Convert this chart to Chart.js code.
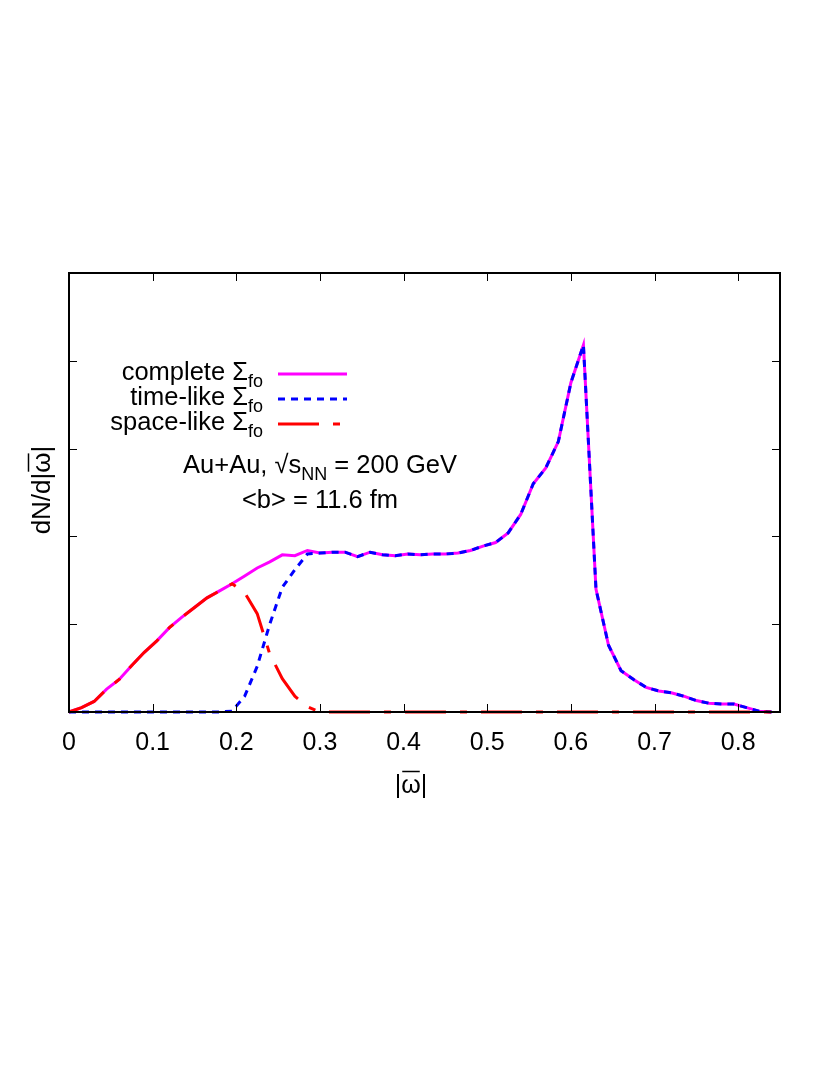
<!DOCTYPE html>
<html>
<head>
<meta charset="utf-8">
<script src="https://cdn.jsdelivr.net/npm/chart.js@4/dist/chart.umd.min.js"></script>
<style>
    html, body { margin: 0; padding: 0; background: #fff; }
    canvas { display: block; }
</style>
</head>
<body>
<canvas id="omegaChart" width="830" height="1075"></canvas>
<script>
// |omega| bins
const omegaValues = [0, 0.015, 0.03, 0.045, 0.06, 0.075, 0.09, 0.105, 0.12, 0.135,
    0.15, 0.165, 0.18, 0.195, 0.21, 0.225, 0.24, 0.255, 0.27, 0.285,
    0.3, 0.315, 0.33, 0.345, 0.36, 0.375, 0.39, 0.405, 0.42, 0.435,
    0.45, 0.465, 0.48, 0.495, 0.51, 0.525, 0.54, 0.555, 0.57, 0.585,
    0.6, 0.615, 0.63, 0.645, 0.66, 0.675, 0.69, 0.705, 0.72, 0.735,
    0.75, 0.765, 0.78, 0.795, 0.81, 0.825, 0.84];

// complete freeze-out surface
const completeValues = [0, 0.05, 0.12, 0.26, 0.37, 0.53, 0.68, 0.81, 0.96, 1.08,
    1.19, 1.30, 1.38, 1.46, 1.55, 1.64, 1.71, 1.79, 1.78, 1.84,
    1.81, 1.82, 1.82, 1.77, 1.82, 1.79, 1.78, 1.80, 1.79, 1.80,
    1.80, 1.81, 1.84, 1.89, 1.93, 2.04, 2.25, 2.60, 2.78, 3.08,
    3.75, 4.18, 1.40, 0.76, 0.47, 0.37, 0.28, 0.24, 0.22, 0.18,
    0.13, 0.10, 0.09, 0.09, 0.05, 0.01, 0];

// time-like part
const timeLikeValues = [0, 0, 0, 0, 0, 0, 0, 0, 0, 0,
    0, 0, 0, 0.01, 0.18, 0.52, 1.00, 1.42, 1.62, 1.80,
    1.81, 1.82, 1.82, 1.77, 1.82, 1.79, 1.78, 1.80, 1.79, 1.80,
    1.80, 1.81, 1.84, 1.89, 1.93, 2.04, 2.25, 2.60, 2.78, 3.08,
    3.75, 4.18, 1.40, 0.76, 0.47, 0.37, 0.28, 0.24, 0.22, 0.18,
    0.13, 0.10, 0.09, 0.09, 0.05, 0.01, 0];

// space-like part
const spaceLikeValues = [0, 0.05, 0.12, 0.26, 0.37, 0.53, 0.68, 0.81, 0.96, 1.08,
    1.19, 1.30, 1.38, 1.46, 1.36, 1.12, 0.66, 0.38, 0.18, 0.06,
    0, 0, 0, 0, 0, 0, 0, 0, 0, 0,
    0, 0, 0, 0, 0, 0, 0, 0, 0, 0,
    0, 0, 0, 0, 0, 0, 0, 0, 0, 0,
    0, 0, 0, 0, 0, 0, 0];

const xTicks = [0, 0.1, 0.2, 0.3, 0.4, 0.5, 0.6, 0.7, 0.8];
const yTicks = [0, 1, 2, 3, 4, 5];

const FONT = '"Liberation Sans", Arial, sans-serif';
const TEXT_SIZE = 25.5;
const SUB_SIZE = 18;

function toPoints(values) {
    return omegaValues.map((x, i) => ({ x: x, y: values[i] }));
}

// text with a subscript
function drawSub(ctx, main, sub, x, y, align) {
    ctx.font = TEXT_SIZE + 'px ' + FONT;
    const wMain = ctx.measureText(main).width;
    ctx.font = SUB_SIZE + 'px ' + FONT;
    const wSub = ctx.measureText(sub).width;
    let start = x;
    if (align === 'right') start = x - wMain - wSub;
    if (align === 'center') start = x - (wMain + wSub) / 2;
    ctx.textAlign = 'left';
    ctx.font = TEXT_SIZE + 'px ' + FONT;
    ctx.fillText(main, start, y);
    ctx.font = SUB_SIZE + 'px ' + FONT;
    ctx.fillText(sub, start + wMain, y + 7);
}

const frameAndTextPlugin = {
    id: 'frameAndText',
    afterDraw(chart) {
        const ctx = chart.ctx;
        const area = chart.chartArea;
        const xs = chart.scales.x;
        const ys = chart.scales.y;
        ctx.save();

        // frame
        ctx.strokeStyle = '#000';
        ctx.lineWidth = 2;
        ctx.setLineDash([]);
        ctx.strokeRect(area.left, area.top, area.right - area.left, area.bottom - area.top);

        // inward ticks on all sides
        ctx.lineWidth = 1;
        ctx.beginPath();
        xTicks.forEach(v => {
            const px = Math.round(xs.getPixelForValue(v)) + 0.5;
            ctx.moveTo(px, area.bottom); ctx.lineTo(px, area.bottom - 8);
            ctx.moveTo(px, area.top); ctx.lineTo(px, area.top + 8);
        });
        yTicks.forEach(v => {
            const py = Math.round(ys.getPixelForValue(v)) + 0.5;
            ctx.moveTo(area.left, py); ctx.lineTo(area.left + 8, py);
            ctx.moveTo(area.right, py); ctx.lineTo(area.right - 8, py);
        });
        ctx.stroke();

        // legend
        ctx.textBaseline = 'alphabetic';
        const rows = [
            { label: 'complete Σ', color: '#ff00ff', dash: [] },
            { label: 'time-like Σ', color: '#0000ff', dash: [7, 6] },
            { label: 'space-like Σ', color: '#ff0000', dash: [41, 14, 7, 14] }
        ];
        rows.forEach((r, i) => {
            const base = 380 + i * 25;
            ctx.fillStyle = '#000';
            drawSub(ctx, r.label, 'fo', 263, base, 'right');
            ctx.strokeStyle = r.color;
            ctx.lineWidth = 3;
            ctx.setLineDash(r.dash);
            ctx.beginPath();
            ctx.moveTo(278, base - 6);
            ctx.lineTo(347, base - 6);
            ctx.stroke();
        });
        ctx.setLineDash([]);

        // annotation
        ctx.fillStyle = '#000';
        ctx.font = TEXT_SIZE + 'px ' + FONT;
        const p1 = 'Au+Au, √s';
        const p3 = ' = 200 GeV';
        const w1 = ctx.measureText(p1).width;
        const w3 = ctx.measureText(p3).width;
        ctx.font = SUB_SIZE + 'px ' + FONT;
        const w2 = ctx.measureText('NN').width;
        const sx = 320 - (w1 + w2 + w3) / 2;
        ctx.textAlign = 'left';
        ctx.font = TEXT_SIZE + 'px ' + FONT;
        ctx.fillText(p1, sx, 473);
        ctx.font = SUB_SIZE + 'px ' + FONT;
        ctx.fillText('NN', sx + w1, 480);
        ctx.font = TEXT_SIZE + 'px ' + FONT;
        ctx.fillText(p3, sx + w1 + w2, 473);
        ctx.textAlign = 'center';
        ctx.fillText('<b> = 11.6 fm', 320, 508);

        // x axis title |ω̄|
        ctx.font = '25px ' + FONT;
        ctx.textAlign = 'left';
        const bar = ctx.measureText('|').width;
        const om = ctx.measureText('ω').width;
        const tx = 411 - (2 * bar + om) / 2;
        ctx.fillText('|ω|', tx, 793);
        ctx.lineWidth = 1.5;
        ctx.strokeStyle = '#000';
        ctx.beginPath();
        ctx.moveTo(tx + bar + 1, 771.5);
        ctx.lineTo(tx + bar + om - 1, 771.5);
        ctx.stroke();

        // y axis title dN/d|ω̄|
        ctx.font = '26px ' + FONT;
        const om2 = ctx.measureText('ω').width;
        ctx.translate(42, 490);
        ctx.rotate(-Math.PI / 2);
        const wPre = ctx.measureText('dN/d|').width;
        const wAll = ctx.measureText('dN/d|ω|').width;
        ctx.fillText('dN/d|ω|', -wAll / 2, 8);
        ctx.beginPath();
        ctx.moveTo(-wAll / 2 + wPre + 1, -13.5);
        ctx.lineTo(-wAll / 2 + wPre + om2 - 1, -13.5);
        ctx.stroke();

        ctx.restore();
    }
};

new Chart(document.getElementById('omegaChart'), {
    type: 'line',
    data: {
        datasets: [
            {
                label: 'complete',
                data: toPoints(completeValues),
                borderColor: '#ff00ff',
                borderWidth: 3,
                order: 3
            },
            {
                label: 'time-like',
                data: toPoints(timeLikeValues),
                borderColor: '#0000ff',
                borderWidth: 3,
                borderDash: [7, 6],
                order: 2
            },
            {
                label: 'space-like',
                data: toPoints(spaceLikeValues),
                borderColor: '#ff0000',
                borderWidth: 3,
                borderDash: [41, 14, 7, 14],
                order: 1
            }
        ]
    },
    options: {
        responsive: false,
        animation: false,
        clip: 4,
        elements: {
            point: { radius: 0 },
            line: { tension: 0, fill: false, borderCapStyle: 'butt' }
        },
        layout: {
            padding: { left: 69, right: 50, top: 273, bottom: 0 }
        },
        plugins: {
            legend: { display: false },
            tooltip: { enabled: false }
        },
        scales: {
            x: {
                type: 'linear',
                min: 0,
                max: 0.85,
                grid: { display: false },
                border: { display: false },
                ticks: {
                    stepSize: 0.1,
                    includeBounds: false,
                    maxRotation: 0,
                    padding: 8,
                    color: '#000',
                    font: { family: FONT, size: 25 },
                    callback: v => Number(v.toFixed(1)).toString()
                },
                afterFit: scale => { scale.height = 363; }
            },
            y: {
                display: false,
                min: 0,
                max: 5
            }
        }
    },
    plugins: [frameAndTextPlugin]
});
</script>
</body>
</html>
